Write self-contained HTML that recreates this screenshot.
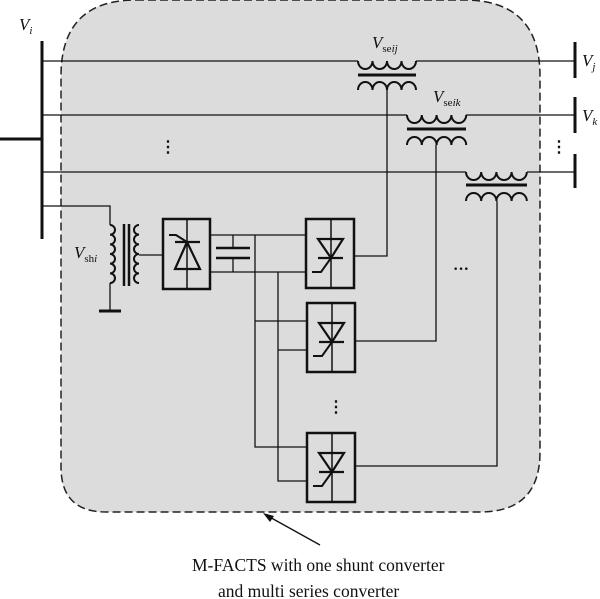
<!DOCTYPE html>
<html><head><meta charset="utf-8"><style>
html,body{margin:0;padding:0;background:#fff;}
svg{display:block;}
text{font-family:"Liberation Serif",serif;fill:#111;}
</style></head><body>
<svg width="600" height="599" viewBox="0 0 600 599" xmlns="http://www.w3.org/2000/svg">
<defs>
<g id="thy">
  <rect x="0" y="0" width="48" height="69" fill="none" stroke="#111" stroke-width="2.5"/>
  <line x1="25" y1="0" x2="25" y2="69" stroke="#111" stroke-width="1.5"/>
  <polygon points="12,20 37,20 25,39" fill="none" stroke="#111" stroke-width="2.2"/>
  <line x1="12" y1="39" x2="37" y2="39" stroke="#111" stroke-width="2.2"/>
  <polyline points="25,39 15,53 6,53" fill="none" stroke="#111" stroke-width="2"/>
</g>
</defs>
<path d="M136,0 L464,0 Q540,0 540,76 L540,452 Q540,512 480,512 L106,512 Q61,512 61,467 L61,76 Q61,0 136,0 Z" fill="#dcdcdc" stroke="#222" stroke-width="1.5" stroke-dasharray="8,4"/>
<g stroke="#111" fill="none">
  <line x1="42" y1="41" x2="42" y2="239" stroke-width="3"/>
  <line x1="0" y1="139" x2="42" y2="139" stroke-width="3"/>
  <line x1="575" y1="42" x2="575" y2="78" stroke-width="3"/>
  <line x1="575" y1="97" x2="575" y2="133" stroke-width="3"/>
  <line x1="575" y1="154" x2="575" y2="188" stroke-width="3"/>
  <line x1="42" y1="61" x2="358" y2="61" stroke-width="1.3"/>
  <line x1="416" y1="61" x2="575" y2="61" stroke-width="1.3"/>
  <line x1="42" y1="115" x2="407" y2="115" stroke-width="1.3"/>
  <line x1="466" y1="115" x2="575" y2="115" stroke-width="1.3"/>
  <line x1="42" y1="172" x2="466" y2="172" stroke-width="1.3"/>
  <line x1="527" y1="172" x2="575" y2="172" stroke-width="1.3"/>
  <g stroke-width="2">
    <path d="M358,61 a7.25,8 0 0 0 14.5,0 a7.25,8 0 0 0 14.5,0 a7.25,8 0 0 0 14.5,0 a7.25,8 0 0 0 14.5,0"/>
    <line x1="358" y1="75" x2="416" y2="75" stroke-width="3"/>
    <path d="M358,90 a7.25,8 0 0 1 14.5,0 a7.25,8 0 0 1 14.5,0 a7.25,8 0 0 1 14.5,0 a7.25,8 0 0 1 14.5,0"/>
    <path d="M407,115 a7.4,8 0 0 0 14.8,0 a7.4,8 0 0 0 14.8,0 a7.4,8 0 0 0 14.8,0 a7.4,8 0 0 0 14.8,0"/>
    <line x1="407" y1="129" x2="466" y2="129" stroke-width="3"/>
    <path d="M407,145 a7.4,8 0 0 1 14.8,0 a7.4,8 0 0 1 14.8,0 a7.4,8 0 0 1 14.8,0 a7.4,8 0 0 1 14.8,0"/>
    <path d="M466,172 a7.6,8 0 0 0 15.2,0 a7.6,8 0 0 0 15.2,0 a7.6,8 0 0 0 15.2,0 a7.6,8 0 0 0 15.2,0"/>
    <line x1="466" y1="185" x2="527" y2="185" stroke-width="3"/>
    <path d="M466,201 a7.6,8 0 0 1 15.2,0 a7.6,8 0 0 1 15.2,0 a7.6,8 0 0 1 15.2,0 a7.6,8 0 0 1 15.2,0"/>
  </g>
  <g stroke-width="1.3">
    <polyline points="387,90 387,256 354,256"/>
    <polyline points="436,145 436,341 354,341"/>
    <polyline points="497,201 497,466 354,466"/>
    <polyline points="42,206 110,206 110,225"/>
    <polyline points="110,283 110,311"/>
    <line x1="139" y1="255" x2="163" y2="255"/>
    <line x1="210" y1="235" x2="306" y2="235"/>
    <line x1="210" y1="272" x2="306" y2="272"/>
    <line x1="233" y1="235" x2="233" y2="248"/>
    <line x1="233" y1="258" x2="233" y2="272"/>
    <polyline points="255,235 255,447 307,447"/>
    <line x1="255" y1="321" x2="307" y2="321"/>
    <polyline points="278,272 278,481 307,481"/>
    <line x1="278" y1="350" x2="307" y2="350"/>
  </g>
  <line x1="99" y1="311" x2="121" y2="311" stroke-width="3"/>
  <line x1="216" y1="248" x2="250" y2="248" stroke-width="2.5"/>
  <line x1="216" y1="258" x2="250" y2="258" stroke-width="2.5"/>
  <path d="M110,225 a5,4.83 0 0 1 0,9.67 a5,4.83 0 0 1 0,9.67 a5,4.83 0 0 1 0,9.67 a5,4.83 0 0 1 0,9.67 a5,4.83 0 0 1 0,9.67 a5,4.83 0 0 1 0,9.67" stroke-width="2"/>
  <path d="M139,225 a5,4.83 0 0 0 0,9.67 a5,4.83 0 0 0 0,9.67 a5,4.83 0 0 0 0,9.67 a5,4.83 0 0 0 0,9.67 a5,4.83 0 0 0 0,9.67 a5,4.83 0 0 0 0,9.67" stroke-width="2"/>
  <line x1="124" y1="224" x2="124" y2="286" stroke-width="2.5"/>
  <line x1="129" y1="224" x2="129" y2="286" stroke-width="2.5"/>
  <rect x="163" y="219" width="47" height="70" stroke-width="2.5"/>
  <line x1="187" y1="219" x2="187" y2="289" stroke-width="1.5"/>
  <polygon points="187,242 175,269 200,269" stroke-width="2.2"/>
  <line x1="175" y1="242" x2="200" y2="242" stroke-width="2.2"/>
  <polyline points="169,235 176,235 187,242" stroke-width="2"/>
  <line x1="320" y1="545" x2="266" y2="515" stroke-width="1.3"/>
</g>
<polygon points="263,513 274,516 270,522" fill="#111"/>
<use href="#thy" x="306" y="219"/>
<use href="#thy" x="307" y="303"/>
<use href="#thy" x="307" y="433"/>
<g font-size="17">
  <text x="19" y="30" font-style="italic">V<tspan font-size="11" dy="4">i</tspan></text>
  <text x="582" y="66" font-style="italic">V<tspan font-size="11" dy="4">j</tspan></text>
  <text x="582" y="121" font-style="italic">V<tspan font-size="11" dy="4">k</tspan></text>
  <text x="372" y="48" font-style="italic">V<tspan font-size="11" dy="4" font-style="normal">se</tspan><tspan font-size="11">ij</tspan></text>
  <text x="433" y="102" font-style="italic">V<tspan font-size="11" dy="4" font-style="normal">se</tspan><tspan font-size="11">ik</tspan></text>
  <text x="74" y="258" font-style="italic">V<tspan font-size="11" dy="4" font-style="normal">sh</tspan><tspan font-size="11">i</tspan></text>
</g>
<g font-size="16" font-weight="bold">
  <text x="160" y="152">⋮</text>
  <text x="551" y="152">⋮</text>
  <text x="328" y="412">⋮</text>
  <text x="453" y="274">···</text>
</g>
<text x="192" y="571" font-size="17.5">M-FACTS with one shunt converter</text>
<text x="218" y="597" font-size="17.5">and multi series converter</text>
</svg>
</body></html>
